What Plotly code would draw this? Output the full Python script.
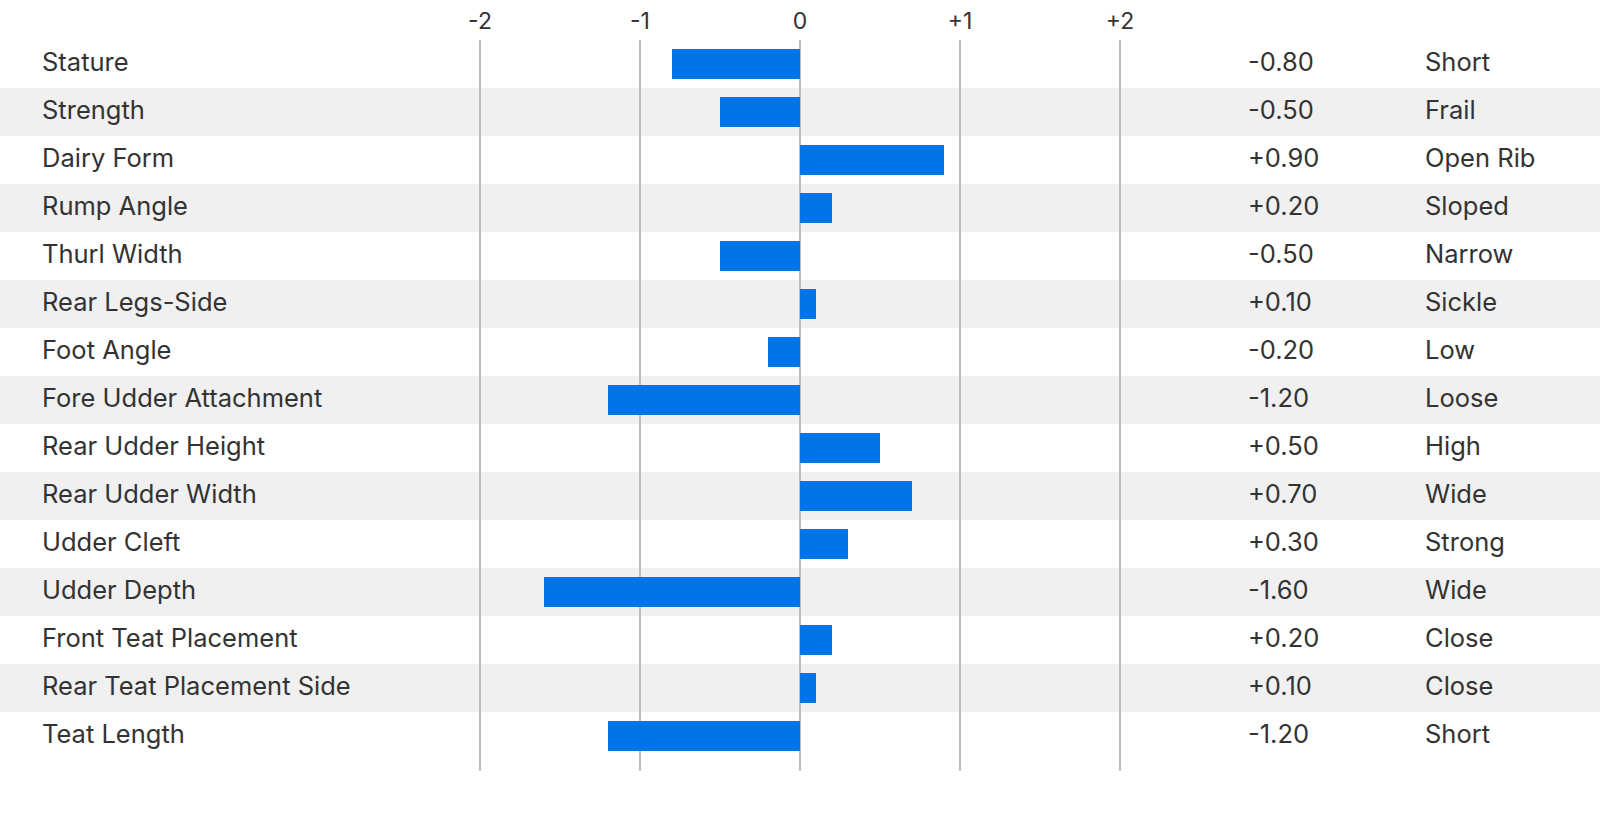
import plotly.graph_objects as go

traits = ["Stature", "Strength", "Dairy Form", "Rump Angle", "Thurl Width",
          "Rear Legs-Side", "Foot Angle", "Fore Udder Attachment", "Rear Udder Height",
          "Rear Udder Width", "Udder Cleft", "Udder Depth", "Front Teat Placement",
          "Rear Teat Placement Side", "Teat Length"]
values = [-0.80, -0.50, 0.90, 0.20, -0.50, 0.10, -0.20, -1.20, 0.50, 0.70,
          0.30, -1.60, 0.20, 0.10, -1.20]
descriptions = ["Short", "Frail", "Open Rib", "Sloped", "Narrow", "Sickle", "Low",
                "Loose", "High", "Wide", "Strong", "Wide", "Close", "Close", "Short"]
tick_vals = [-2, -1, 0, 1, 2]
tick_text = ["-2", "-1", "0", "+1", "+2"]

FONT = "Inter, 'Open Sans', sans-serif"
TEXT = "#333333"
W, H = 1600, 836
ROW = 48
TOP = 40          # top of first row (px)
GRID_TOP, GRID_BOT = 40, 771

idx = list(range(len(traits)))
center0 = TOP + ROW / 2
y_top = (GRID_TOP - center0) / ROW
y_bot = (GRID_BOT - center0) / ROW

fig = go.Figure()
fig.add_trace(go.Bar(
    x=values, y=idx, orientation="h", width=0.64,
    marker=dict(color="#0073E6", line=dict(width=0)),
    hoverinfo="skip", showlegend=False,
))

shapes = []
for i in idx:
    if i % 2 == 1:
        shapes.append(dict(type="rect", xref="paper", yref="y", x0=0, x1=1,
                           y0=i - 0.5, y1=i + 0.5, fillcolor="#F0F0F0",
                           line=dict(width=0), layer="below"))

annotations = []
LBL = 25.5
for i, (t, v, d) in enumerate(zip(traits, values, descriptions)):
    for xpx, txt in ((40, t), (1246, f"{v:+.2f}"), (1423, d)):
        annotations.append(dict(x=xpx / W, y=i, xref="paper", yref="y", text=txt,
                                showarrow=False, xanchor="left", yanchor="middle",
                                yshift=3,
                                font=dict(family=FONT, size=LBL, color=TEXT)))

fig.update_layout(
    width=W, height=H,
    margin=dict(l=0, r=0, t=0, b=0),
    paper_bgcolor="white", plot_bgcolor="rgba(0,0,0,0)",
    xaxis=dict(range=[-5, 5], domain=[0, 1], side="top",
               tickvals=tick_vals, ticktext=tick_text,
               showgrid=True, gridcolor="#BDBDBD", gridwidth=1.5,
               zeroline=False, showline=False, ticks="", ticklabelstandoff=5,
               tickfont=dict(family=FONT, size=23, color=TEXT), fixedrange=True),
    yaxis=dict(range=[y_bot, y_top],
               domain=[(H - GRID_BOT) / H, (H - GRID_TOP) / H],
               showgrid=False, zeroline=False, showticklabels=False,
               showline=False, fixedrange=True),
    shapes=shapes, annotations=annotations,
    bargap=0,
)

fig.write_html("out.html", config={"displayModeBar": False},
               post_script="document.body.style.margin='0px';")
